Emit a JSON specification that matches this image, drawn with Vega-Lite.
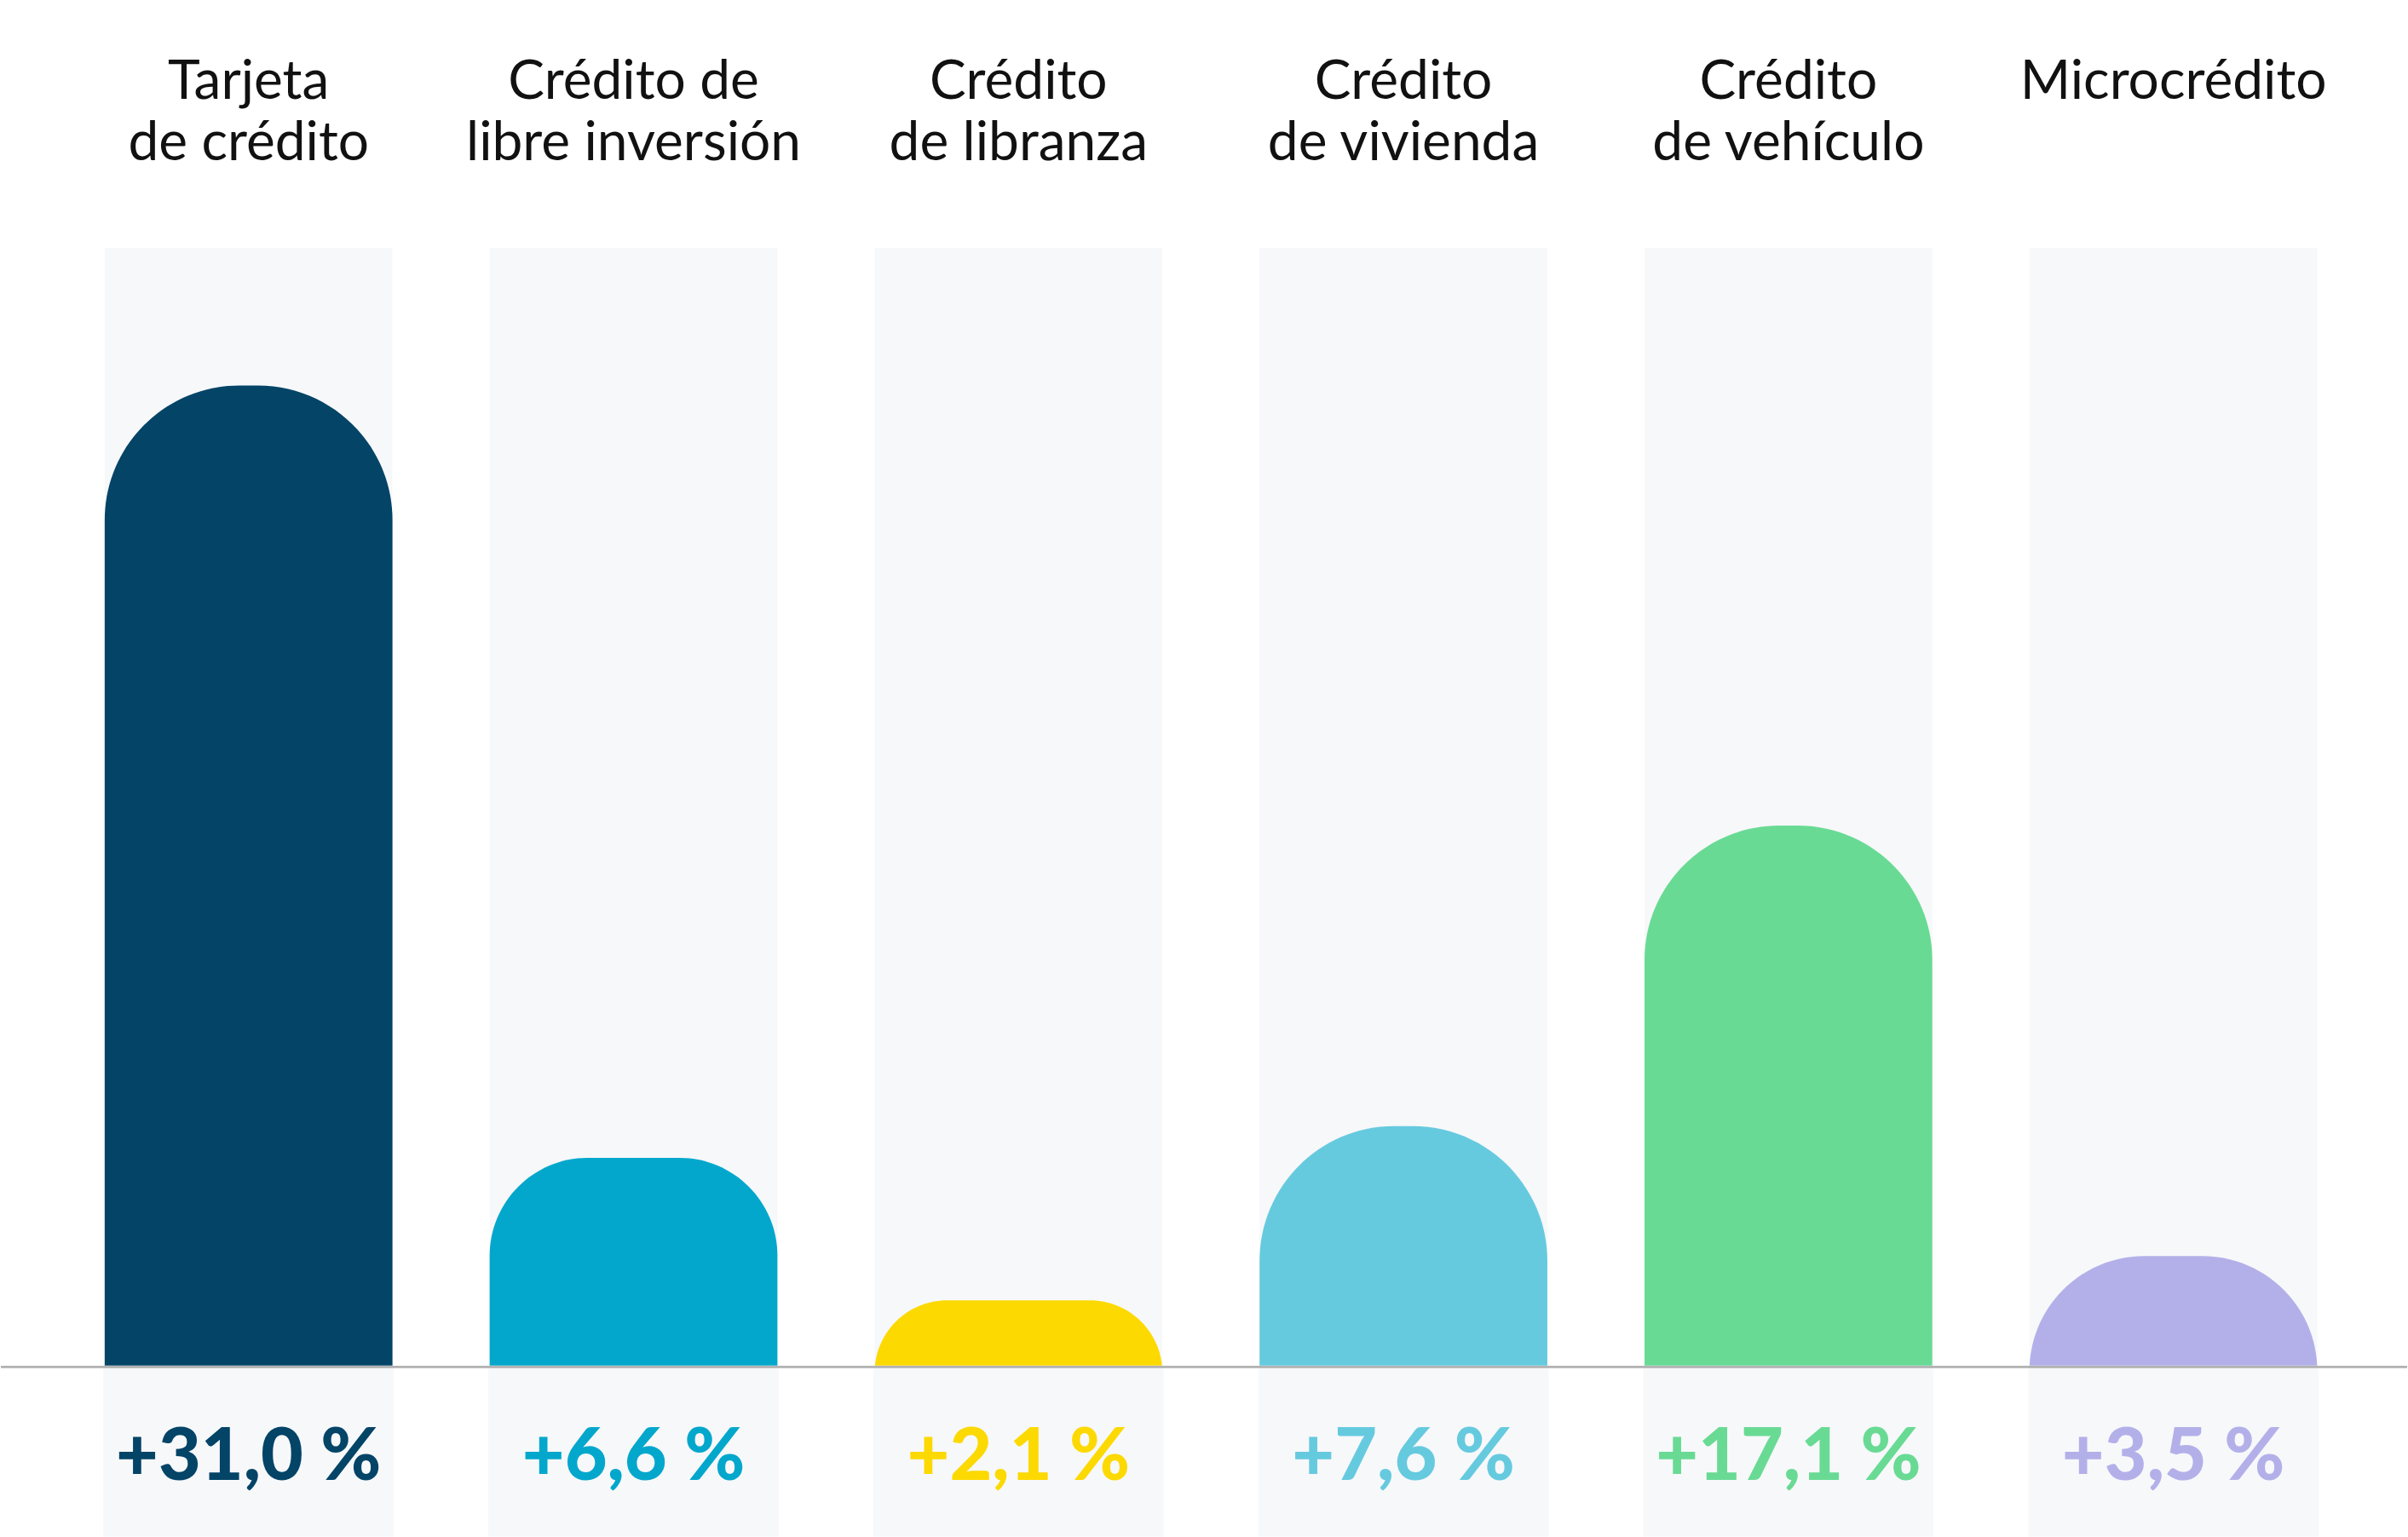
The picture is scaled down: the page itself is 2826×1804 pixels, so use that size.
{
  "$schema": "https://vega.github.io/schema/vega-lite/v6.json",
  "width": 2826,
  "height": 1804,
  "autosize": {"type": "fit", "contains": "padding"},
  "padding": 0,
  "background": "#ffffff",
  "config": {"view": {"stroke": null}},
  "data": {
    "values": [
      {"cat": "Tarjeta de crédito", "titulo": "Tarjeta\nde crédito", "valor": 31.0, "etiqueta": "+31,0 %"},
      {"cat": "Crédito de libre inversión", "titulo": "Crédito de\nlibre inversión", "valor": 6.6, "etiqueta": "+6,6 %"},
      {"cat": "Crédito de libranza", "titulo": "Crédito\nde libranza", "valor": 2.1, "etiqueta": "+2,1 %"},
      {"cat": "Crédito de vivienda", "titulo": "Crédito\nde vivienda", "valor": 7.6, "etiqueta": "+7,6 %"},
      {"cat": "Crédito de vehículo", "titulo": "Crédito\nde vehículo", "valor": 17.1, "etiqueta": "+17,1 %"},
      {"cat": "Microcrédito", "titulo": "Microcrédito", "valor": 3.5, "etiqueta": "+3,5 %"}
    ]
  },
  "layer": [
    {
      "mark": {"type": "bar", "color": "#f7f8fa"},
      "encoding": {
        "x": {"field": "cat", "type": "nominal", "sort": null, "axis": null,
              "scale": {"paddingInner": 0.2524, "paddingOuter": 0.2516, "align": 0.536}},
        "y": {"datum": 35.35, "type": "quantitative", "axis": null,
              "scale": {"domain": [-5.324, 43.18], "nice": false, "zero": false}},
        "y2": {"datum": -5.324}
      }
    },
    {
      "mark": {"type": "bar",
               "cornerRadiusTopLeft": {"expr": "datum.cat === 'Crédito de libre inversión' ? 115 : datum.cat === 'Crédito de libranza' ? 85 : 158"},
               "cornerRadiusTopRight": {"expr": "datum.cat === 'Crédito de libre inversión' ? 115 : datum.cat === 'Crédito de libranza' ? 85 : 158"}},
      "encoding": {
        "x": {"field": "cat", "type": "nominal", "sort": null, "axis": null},
        "y": {"field": "valor", "type": "quantitative", "axis": null},
        "y2": {"datum": -3.76},
        "color": {"field": "cat", "type": "nominal", "legend": null,
                  "scale": {"domain": ["Tarjeta de crédito", "Crédito de libre inversión", "Crédito de libranza", "Crédito de vivienda", "Crédito de vehículo", "Microcrédito"],
                            "range": ["#034467", "#03A7CC", "#FCD900", "#66CADF", "#69DA94", "#B3B0E9"]}}
      }
    },
    {
      "mark": {"type": "bar", "color": "#f7f8fa", "stroke": "#f7f8fa", "strokeWidth": 3},
      "encoding": {
        "x": {"field": "cat", "type": "nominal", "sort": null, "axis": null},
        "y": {"datum": 0, "type": "quantitative"},
        "y2": {"datum": -5.324}
      }
    },
    {
      "mark": {"type": "rule", "color": "#b3b3b3", "strokeWidth": 2},
      "encoding": {"y": {"datum": 0, "type": "quantitative"}}
    },
    {
      "mark": {"type": "text", "font": "Lato", "fontSize": 64, "color": "#111111", "align": "center", "baseline": "alphabetic", "lineBreak": "\n", "lineHeight": 72},
      "encoding": {
        "x": {"field": "cat", "type": "nominal", "sort": null, "axis": null},
        "y": {"datum": 40.06, "type": "quantitative"},
        "text": {"field": "titulo"}
      }
    },
    {
      "mark": {"type": "text", "font": "Lato", "fontWeight": 900, "fontSize": 86, "align": "center", "baseline": "alphabetic"},
      "encoding": {
        "x": {"field": "cat", "type": "nominal", "sort": null, "axis": null},
        "y": {"datum": -3.58, "type": "quantitative"},
        "text": {"field": "etiqueta"},
        "color": {"field": "cat", "type": "nominal", "legend": null}
      }
    }
  ]
}
